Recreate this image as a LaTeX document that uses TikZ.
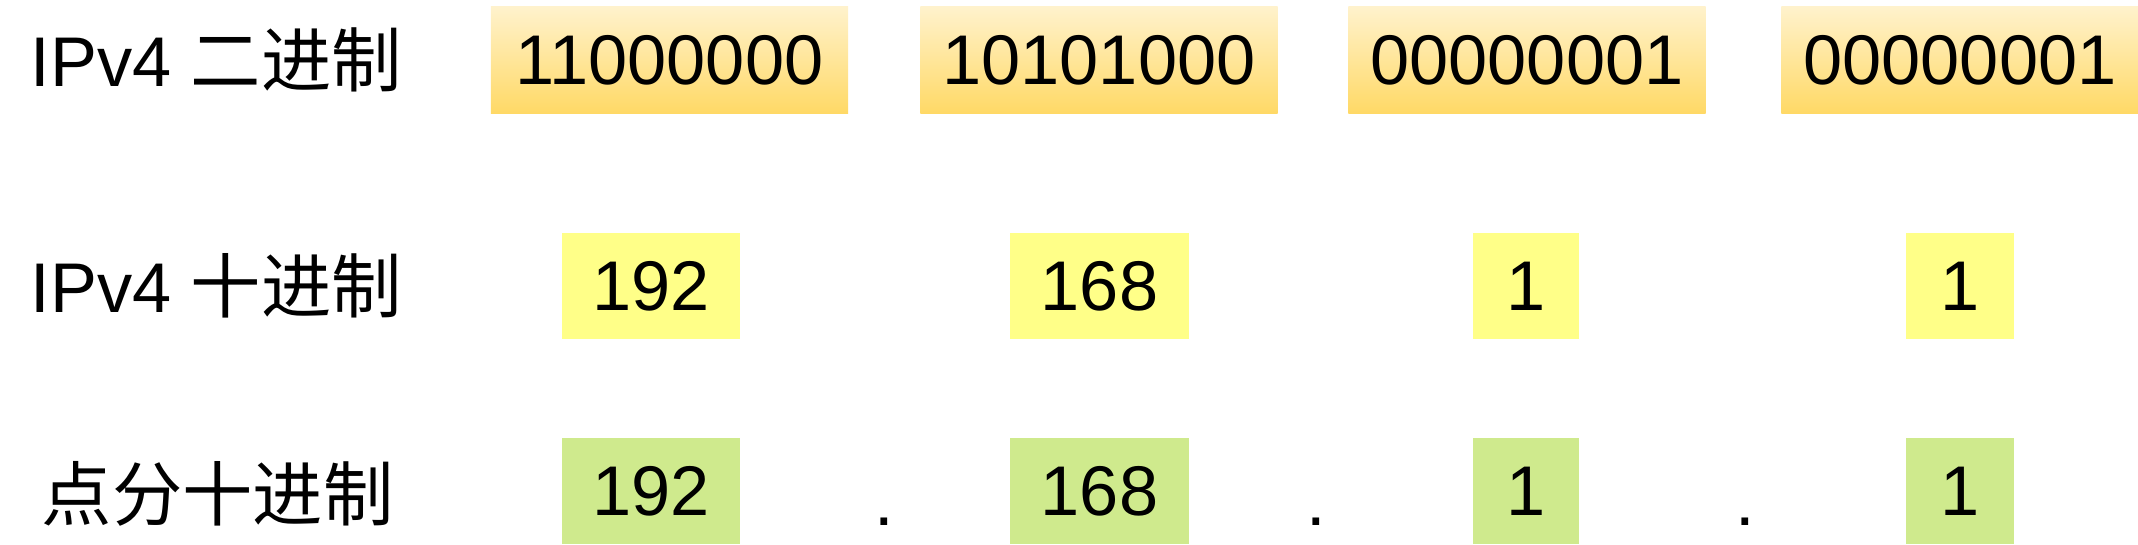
\documentclass[tikz,border=0pt]{standalone}
\usepackage{fontspec}
\setmainfont{Liberation Sans}
\newfontfamily\cjk{Noto Sans CJK SC}
\definecolor{binlight}{HTML}{FFF2CC}
\definecolor{bindark}{HTML}{FFD966}
\definecolor{decyellow}{HTML}{FFFF88}
\definecolor{dotgreen}{HTML}{CFEA8D}
\begin{document}
\begin{tikzpicture}[x=0.01cm,y=-0.01cm]
      \useasboundingbox (0,0) rectangle (2138,544);

      \begin{scope}[every node/.style={anchor=west,inner sep=0pt,
          font=\fontsize{20}{24}\selectfont}]
        \node (bin)  at (30,60)  {IPv4 {\cjk 二进制}};
        \node (dec)  at (30,286) {IPv4 {\cjk 十进制}};
        \node (dot)  at (41,494) {{\cjk 点分十进制}};
      \end{scope}

      \begin{scope}[every node/.style={inner sep=0pt,minimum height=1.06cm,
          font=\fontsize{20}{24}\selectfont}]
        \begin{scope}[every node/.style={inner sep=0pt,minimum height=1.06cm,
            minimum width=3.57cm,top color=binlight,bottom color=bindark,
            font=\fontsize{20}{24}\selectfont}]
          \node (b1) at (669.5,60) {11000000};
          \node (b2) at (1099,60)  {10101000};
          \node (b3) at (1527,60)  {00000001};
          \node (b4) at (1960,60)  {00000001};
        \end{scope}

        \node[fill=decyellow,minimum width=1.78cm] (d1) at (651,286)    {192};
        \node[fill=decyellow,minimum width=1.79cm] (d2) at (1099.5,286) {168};
        \node[fill=decyellow,minimum width=1.06cm] (d3) at (1526,286)   {1};
        \node[fill=decyellow,minimum width=1.08cm] (d4) at (1960,286)   {1};

        \node[fill=dotgreen,minimum width=1.78cm] (p1) at (651,491)    {192};
        \node[fill=dotgreen,minimum width=1.79cm] (p2) at (1099.5,491) {168};
        \node[fill=dotgreen,minimum width=1.06cm] (p3) at (1526,491)   {1};
        \node[fill=dotgreen,minimum width=1.08cm] (p4) at (1960,491)   {1};
      \end{scope}

      \begin{scope}[every node/.style={anchor=base,inner sep=0pt,
          font=\fontsize{20}{24}\selectfont}]
        \node (s1) at (884,525)  {.};
        \node (s2) at (1316,525) {.};
        \node (s3) at (1745,525) {.};
      \end{scope}

    \end{tikzpicture}
\end{document}
